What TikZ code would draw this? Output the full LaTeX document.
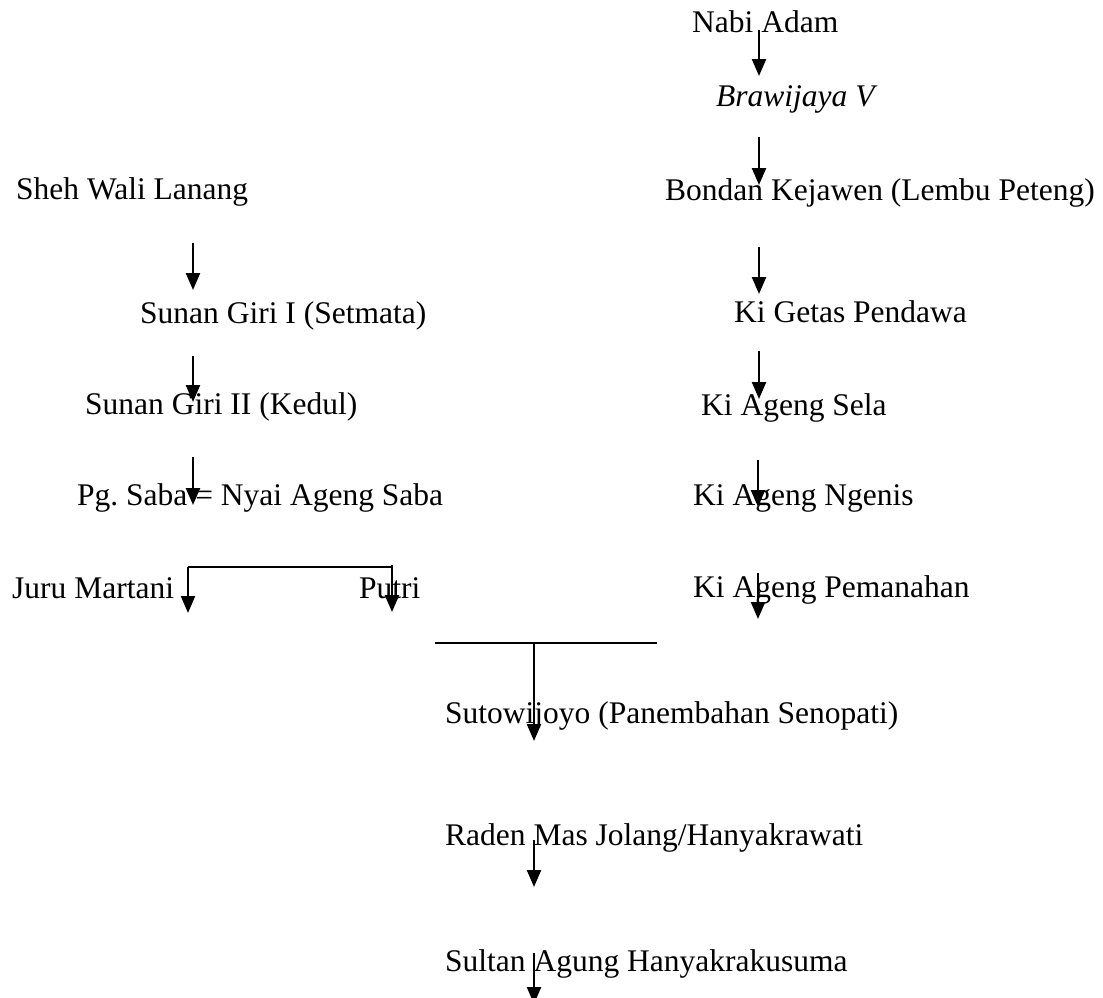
\documentclass[tikz,border=0pt]{standalone}
\usepackage{fontspec}
\setmainfont{Liberation Serif}
\usetikzlibrary{arrows.meta}

\begin{document}
\begin{tikzpicture}[x=1pt, y=-1pt]

  \tikzstyle{person}=[anchor=base west, inner sep=0pt, font=\fontsize{31.5}{38}\selectfont]
  \tikzstyle{descent}=[line width=2.3pt, -{Triangle[length=17pt, width=14pt]}]
  \tikzstyle{link}=[line width=2.2pt]

  \useasboundingbox (0,0) rectangle (1103,997);

  % Majapahit line
  \node [person] (nabi) at (692,32) {Nabi Adam};
  \node [person, font=\fontsize{31.5}{38}\selectfont\itshape] (brawijaya) at (716,106) {Brawijaya V};
  \node [person] (bondan) at (665,200) {Bondan Kejawen (Lembu Peteng)};
  \node [person] (getas) at (734,322) {Ki Getas Pendawa};
  \node [person] (sela) at (701,415) {Ki Ageng Sela};
  \node [person] (ngenis) at (693,505) {Ki Ageng Ngenis};
  \node [person] (pemanahan) at (693,597) {Ki Ageng Pemanahan};

  % Giri line
  \node [person] (sheh) at (16,199) {Sheh Wali Lanang};
  \node [person] (giri-1) at (140,323) {Sunan Giri I (Setmata)};
  \node [person] (giri-2) at (85,414) {Sunan Giri II (Kedul)};
  \node [person] (saba) at (77,505) {Pg.\ Saba = Nyai Ageng Saba};
  \node [person] (juru) at (12,598) {Juru Martani};
  \node [person] (putri) at (359,598) {Putri};

  % Mataram
  \node [person] (sutowijoyo) at (445,723) {Sutowijoyo (Panembahan Senopati)};
  \node [person] (raden) at (445,845) {Raden Mas Jolang/Hanyakrawati};
  \node [person] (sultan) at (445,971) {Sultan Agung Hanyakrakusuma};

  \foreach \n/\x/\ya/\yb in {r-1/759/30/76, r-2/759/137/185, r-3/759/247/294,
      r-4/759/351/399, r-5/758/460/507, r-6/758/573/619,
      l-1/193/243/290, l-2/193/356/402, l-3/193/457/505,
      m-1/534/643/741, m-2/534/840/887, m-3/534/953/1004} {
    \coordinate (\n-top) at (\x,\ya);
    \coordinate (\n-tip) at (\x,\yb);
    \draw [descent] (\n-top) -- (\n-tip);
  }

  \coordinate (kin-l) at (188,567);
  \coordinate (kin-r) at (392,565);
  \draw [link] (kin-l) -- (kin-l -| kin-r);
  \draw [descent] (kin-l) -- ++(0,46);
  \draw [descent] (kin-r) -- ++(0,47);

  \coordinate (wed-l) at (435,643);
  \coordinate (wed-r) at (657,643);
  \draw [link] (wed-l) -- (wed-r);

\end{tikzpicture}
\end{document}
